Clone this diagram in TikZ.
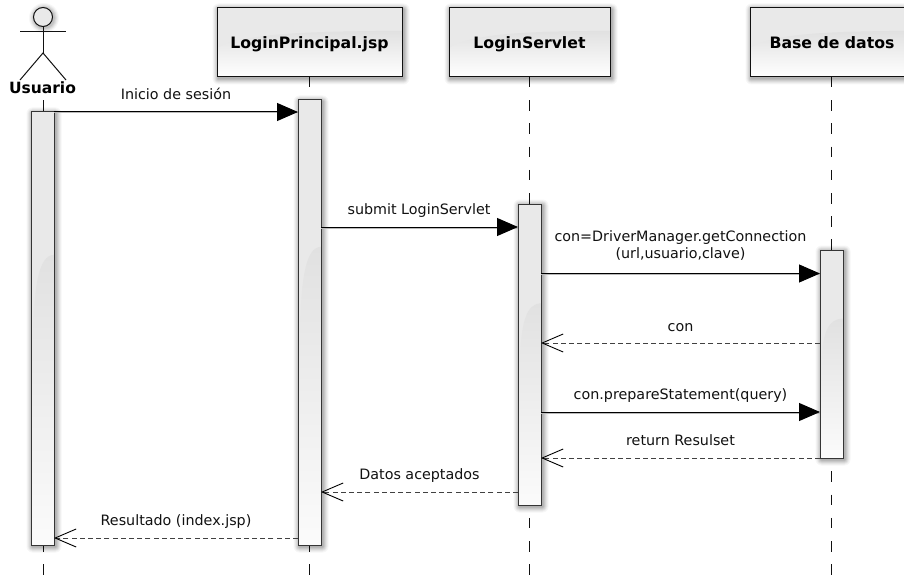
\documentclass[tikz,border=0pt]{standalone}
\usepackage{fontspec}
\setmainfont{DejaVu Sans}
\usetikzlibrary{arrows.meta,calc}
\definecolor{ink}{HTML}{111111}
\definecolor{flatgray}{HTML}{E9E9E9}
\definecolor{swooshgray}{HTML}{E1E1E1}
\definecolor{endgray}{HTML}{FBFBFB}
\tikzset{
 x=1pt,y=-1pt,
 lifeline/.style={draw=ink,line width=0.9pt,dash pattern=on 10.5pt off 12.7pt},
 header/.style={draw=ink,line width=1pt,inner sep=0pt,outer sep=0pt,anchor=north west},
 headtext/.style={font=\fontsize{15.7pt}{18pt}\selectfont\bfseries,text=black,inner sep=0pt,anchor=base},
 activation/.style={draw=ink!85,line width=1pt,inner sep=0pt,outer sep=0pt,anchor=north west,minimum width=23pt},
 sync/.style={draw=black,line width=1pt,preaction={draw=gray!55,line width=1pt,-,transform canvas={yshift=-1pt}},-{Triangle[length=21pt,width=18pt]}},
 reply/.style={draw=ink!80,line width=1pt,dash pattern=on 5pt off 3.2pt,-{Straight Barb[length=21pt,width=18pt,line width=0.9pt,color=black]}},
 msg/.style={font=\fontsize{14.3pt}{17pt}\selectfont,text=ink,inner sep=0pt,anchor=base},
 stick/.style={draw=ink,line width=1pt},
}
% soft shadow: #1 x, #2 y, #3 w, #4 h
\newcommand{\softshadow}[4]{%
 \foreach \r/\o in {6/.035,5/.04,4/.05,3/.06,2/.07,1/.08}{%
  \fill[black,opacity=\o,rounded corners=\r pt] ({#1+1.5-\r},{#2+1.5-\r}) rectangle ({#1+#3+1.5+\r},{#2+#4+1.5+\r});
 }}
% header background
\newcommand{\headback}[4]{%
 \softshadow{#1}{#2}{#3}{#4}%
 \fill[flatgray] (#1,#2) rectangle ({#1+#3},{#2+#4});
 \shade[top color=swooshgray,bottom color=white] (#1,{#2+.58*#4}) .. controls ({#1+.15*#3},{#2+.36*#4}) and ({#1+.5*#3},{#2+.34*#4}) .. ({#1+#3},{#2+.33*#4}) -- ({#1+#3},{#2+#4}) -- (#1,{#2+#4}) -- cycle;
}
% activation background
\newcommand{\actback}[4]{%
 \softshadow{#1}{#2}{#3}{#4}%
 \fill[flatgray] (#1,#2) rectangle ({#1+#3},{#2+#4});
 \shade[top color=swooshgray,bottom color=endgray] ({#1+#3},{#2+.33*#4}) .. controls ({#1+.35*#3},{#2+.33*#4}) and ({#1+.15*#3},{#2+.4*#4}) .. ({#1+.1*#3},{#2+.5*#4}) -- ({#1},{#2+.6*#4}) -- (#1,{#2+#4}) -- ({#1+#3},{#2+#4}) -- cycle;
}
\begin{document}
\begin{tikzpicture}
\useasboundingbox (0,0) rectangle (904,575);
\fill[white] (0,0) rectangle (904,575);
% message heights
\foreach \n/\y in {m1/112,m2/227,m3/273.5,m4/343,m5/412,m6/458,m7/492,m8/538}{\coordinate (\n) at (0,\y);}
% lifelines
\coordinate (uTop) at (43,100.2); \coordinate (uEnd) at (43,575);
\coordinate (pTop) at (309.5,77); \coordinate (pEnd) at (309.5,575);
\coordinate (sTop) at (529.5,77); \coordinate (sEnd) at (529.5,575);
\coordinate (bTop) at (831,77); \coordinate (bEnd) at (831,575);
\draw[lifeline] (uTop) -- (uEnd);
\draw[lifeline] (pTop) -- (pEnd);
\draw[lifeline] (sTop) -- (sEnd);
\draw[lifeline] (bTop) -- (bEnd);
% headers
\headback{217}{8}{185}{69}
\headback{449}{8}{161}{69}
\headback{750}{8}{162}{69}
\node[header,minimum width=185pt,minimum height=69pt] (hp) at (217,8) {};
\node[header,minimum width=161pt,minimum height=69pt] (hs) at (449,8) {};
\node[header,minimum width=162pt,minimum height=69pt] (hb) at (750,8) {};
\node[headtext] (tp) at (309.5,48.3) {LoginPrincipal.jsp};
\node[headtext] (ts) at (529.5,48.3) {LoginServlet};
\node[headtext] (tb) at (832,48.3) {Base de datos};
% actor
\foreach \r/\o in {15/.03,14/.04,13/.05,12/.06,11/.07}{\fill[black,opacity=\o] (44,18) circle[radius=\r];}
\node[circle,draw=ink,line width=1pt,fill=flatgray,minimum size=19pt,inner sep=0pt,outer sep=0pt] (head) at (43,17) {};
\coordinate (armL) at (20,32); \coordinate (armR) at (66,32);
\coordinate (hip) at (43,53); \coordinate (legL) at (20,80); \coordinate (legR) at (66,80);
\draw[stick] (head) -- (hip);
\draw[stick] (armL) -- (armR);
\draw[stick] (legL) -- (hip) -- (legR);
\node[headtext,font=\fontsize{15.5pt}{18pt}\selectfont\bfseries] (lu) at (42.5,94) {Usuario};
% activations
\actback{31}{112}{23}{433}
\actback{298}{100}{23}{445}
\actback{518}{204}{23}{301}
\actback{820}{250}{23}{208}
\node[activation,minimum height=433pt] (au) at (31,112) {};
\node[activation,minimum height=445pt] (ap) at (298,100) {};
\node[activation,minimum height=301pt] (as) at (518,204) {};
\node[activation,minimum height=208pt] (ab) at (820,250) {};
% messages
\draw[sync] (au.east |- m1) -- (ap.west |- m1);
\draw[sync] (ap.east |- m2) -- (as.west |- m2);
\draw[sync] (as.east |- m3) -- (ab.west |- m3);
\draw[reply] (ab.west |- m4) -- (as.east |- m4);
\draw[sync] (as.east |- m5) -- (ab.west |- m5);
\draw[reply] (ab.west |- m6) -- (as.east |- m6);
\draw[reply] (as.west |- m7) -- (ap.east |- m7);
\draw[reply] (ap.west |- m8) -- (au.east |- m8);
% labels
\node[msg] (t1) at (176,99.5) {Inicio de sesión};
\node[msg] (t2) at (419,214.5) {submit LoginServlet};
\node[msg] (t3a) at (680.5,241.3) {con=DriverManager.getConnection};
\node[msg] (t3b) at (680.5,258.3) {(url,usuario,clave)};
\node[msg] (t4) at (680.5,331) {con};
\node[msg] (t5) at (680.5,399.5) {con.prepareStatement(query)};
\node[msg] (t6) at (680.5,445.5) {return Resulset};
\node[msg] (t7) at (419.5,479.5) {Datos aceptados};
\node[msg] (t8) at (176,525.7) {Resultado (index.jsp)};
\end{tikzpicture}
\end{document}
